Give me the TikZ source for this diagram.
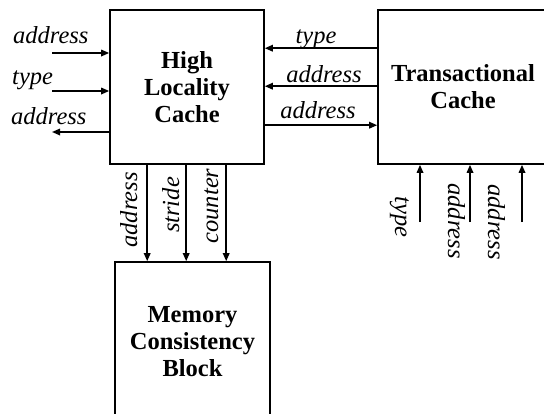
\documentclass[tikz,border=0pt]{standalone}
\usepackage{fontspec}
\setmainfont{Liberation Serif}
\usetikzlibrary{arrows.meta,positioning}
\tikzset{
  box/.style={draw, line width=1.6pt, align=center, inner sep=0pt,
    font=\fontsize{24.5}{27}\selectfont\bfseries},
  arr/.style={-{Triangle[length=8pt,width=6.5pt]}, line width=1.6pt},
  lbl/.style={font=\fontsize{24.5}{27}\selectfont\itshape, inner sep=0pt}
}

\begin{document}
\begin{tikzpicture}[x=1pt,y=-1pt]
\useasboundingbox (0,0) rectangle (544,413);
\node[box, minimum width=154pt, minimum height=154pt] (hlc) at (187,87) {High\\Locality\\Cache};
\node[box, minimum width=170pt, minimum height=154pt] (tc) at (463,87) {Transactional\\Cache};
\node[box, minimum width=155pt, minimum height=160pt] (mcb) at (192.5,342) {Memory\\Consistency\\Block};
% left side
\coordinate (inA) at (52,53);
\coordinate (inB) at (52,91);
\coordinate (outA) at (52,132);
\draw[arr] (inA) -- (inA -| hlc.west);
\draw[arr] (inB) -- (inB -| hlc.west);
\draw[arr] (outA -| hlc.west) -- (outA);
\node[lbl, anchor=base west] (lA) at (13,43) {address};
\node[lbl, anchor=base west] (lB) at (12,84) {type};
\node[lbl, anchor=base west] (lC) at (11,124) {address};
% between the caches
\draw[arr] ([yshift=-39pt]tc.north west) -- ([yshift=-39pt]hlc.north east);
\draw[arr] ([yshift=-77pt]tc.north west) -- ([yshift=-77pt]hlc.north east);
\draw[arr] ([yshift=-116pt]hlc.north east) -- ([yshift=-116pt]tc.north west);
\node[lbl, anchor=base] (mA) at (316,43) {type};
\node[lbl, anchor=base] (mB) at (324,82) {address};
\node[lbl, anchor=base] (mC) at (318,118) {address};
% down to memory block
\foreach \dx/\n in {38/dA,77/dB,117/dC}
  \draw[arr] ([xshift=\dx pt]hlc.south west) coordinate (\n) -- (\n |- mcb.north);
\node[lbl, rotate=90, anchor=base] (bA) at (137,210) {address};
\node[lbl, rotate=90, anchor=base] (bB) at (179,205) {stride};
\node[lbl, rotate=90, anchor=base] (bC) at (218,206) {counter};
% up into transactional cache
\foreach \x/\n in {420/uA,470/uB,522/uC}
  \draw[arr] (\x,222) coordinate (\n) -- (\n |- tc.south);
\node[lbl, rotate=-90, anchor=base] (tA) at (395,217) {type};
\node[lbl, rotate=-90, anchor=base] (tB) at (448,221) {address};
\node[lbl, rotate=-90, anchor=base] (tC) at (488,222) {address};
\end{tikzpicture}
\end{document}
